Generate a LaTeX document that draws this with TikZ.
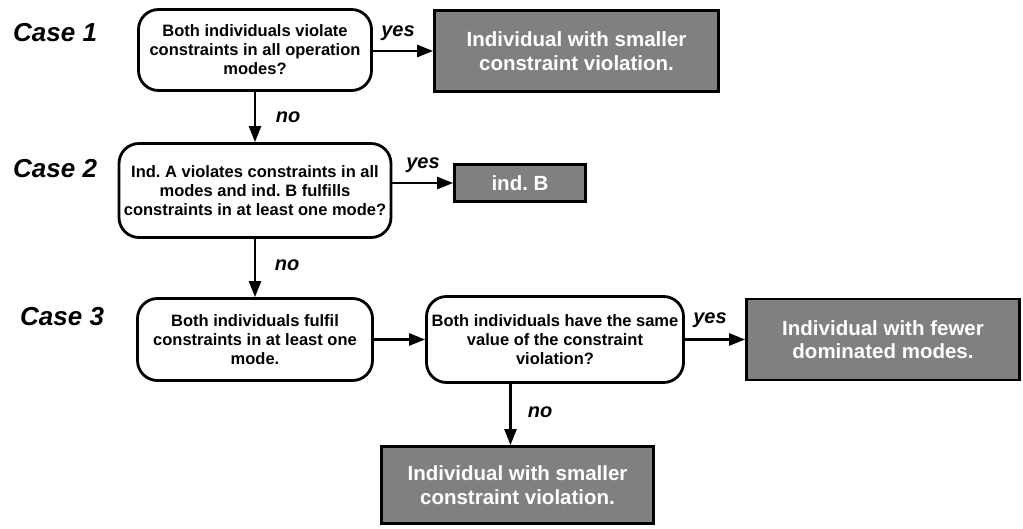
\documentclass[tikz,border=0pt]{standalone}
\usepackage{fontspec}
\setmainfont{Liberation Sans}
\usepackage{xcolor}
\usepackage{tikz}
\usetikzlibrary{arrows.meta}
\frenchspacing
\definecolor{boxgray}{RGB}{128,128,128}
\newcommand{\boxfont}{\fontsize{16.5}{19}\selectfont\bfseries}
\newcommand{\outfont}{\fontsize{20.5}{23.5}\selectfont\bfseries}

\begin{document}
\begin{tikzpicture}[x=1pt, y=1pt,
    question/.style={draw, line width=2.8pt, rounded corners=20pt, fill=white,
                     align=center, font=\boxfont, inner xsep=2pt},
    outcome/.style={draw, line width=2.8pt, fill=boxgray, text=white,
                    align=center, font=\outfont},
    caselabel/.style={anchor=west, inner sep=0pt,
                      font=\fontsize{26}{30}\selectfont\bfseries\itshape},
    answer/.style={font=\fontsize{20}{24}\selectfont\bfseries\itshape},
    link/.style={-{Triangle[length=16pt,width=12pt]}, line width=2.5pt}]
  \useasboundingbox (0,0) rectangle (1023,-529);

  % --- case 1: both infeasible ---
  \node[caselabel] (case1) at (13,-33) {Case 1};
  \node[question, minimum width=233, minimum height=81] (q1) at (255,-50)
       {Both individuals violate\\constraints in all operation\\modes?};
  \node[outcome, minimum width=284, minimum height=81] (r1) at (576.5,-51)
       {Individual with smaller\\constraint violation.};
  \draw[link] (q1.east |- r1.west) -- (r1.west);
  \node[answer] (yes1) at (398,-33) {yes};

  % --- case 2: only B feasible ---
  \node[caselabel] (case2) at (13,-169) {Case 2};
  \node[question, minimum width=272, minimum height=94] (q2) at (255,-190.5)
       {Ind. A violates constraints in all\\modes and ind. B fulfills\\constraints in at least one mode?};
  \node[outcome, minimum width=131, minimum height=37] (r2) at (520,-183) {ind. B};
  \draw[link] (q1) -- (q2);
  \node[answer] (no1) at (288,-117) {no};
  \draw[link] (q2.east |- r2.west) -- (r2.west);
  \node[answer] (yes2) at (423,-165) {yes};

  % --- case 3: both feasible ---
  \node[caselabel] (case3) at (20,-317) {Case 3};
  \node[question, minimum width=235, minimum height=82] (q3) at (255,-339.5)
       {Both individuals fulfil\\constraints in at least one\\mode.};
  \node[question, minimum width=257, minimum height=86] (q4) at (555,-339.5)
       {Both individuals have the same\\value of the constraint\\violation?};
  \node[outcome, minimum width=273, minimum height=81] (r3) at (883,-339.5)
       {Individual with fewer\\dominated modes.};
  \node[outcome, minimum width=272, minimum height=77] (r4) at (517.5,-485)
       {Individual with smaller\\constraint violation.};
  \draw[link] (q2) -- (q3);
  \node[answer] (no2) at (287,-265) {no};
  \draw[link] (q3) -- (q4);
  \draw[link] (q4) -- (r3);
  \node[answer] (yes3) at (710,-320) {yes};
  \draw[link] ([xshift=-7pt]q4.south -| r4.north) -- ([xshift=-7pt]r4.north);
  \node[answer] (no3) at (540,-412) {no};
\end{tikzpicture}
\end{document}
